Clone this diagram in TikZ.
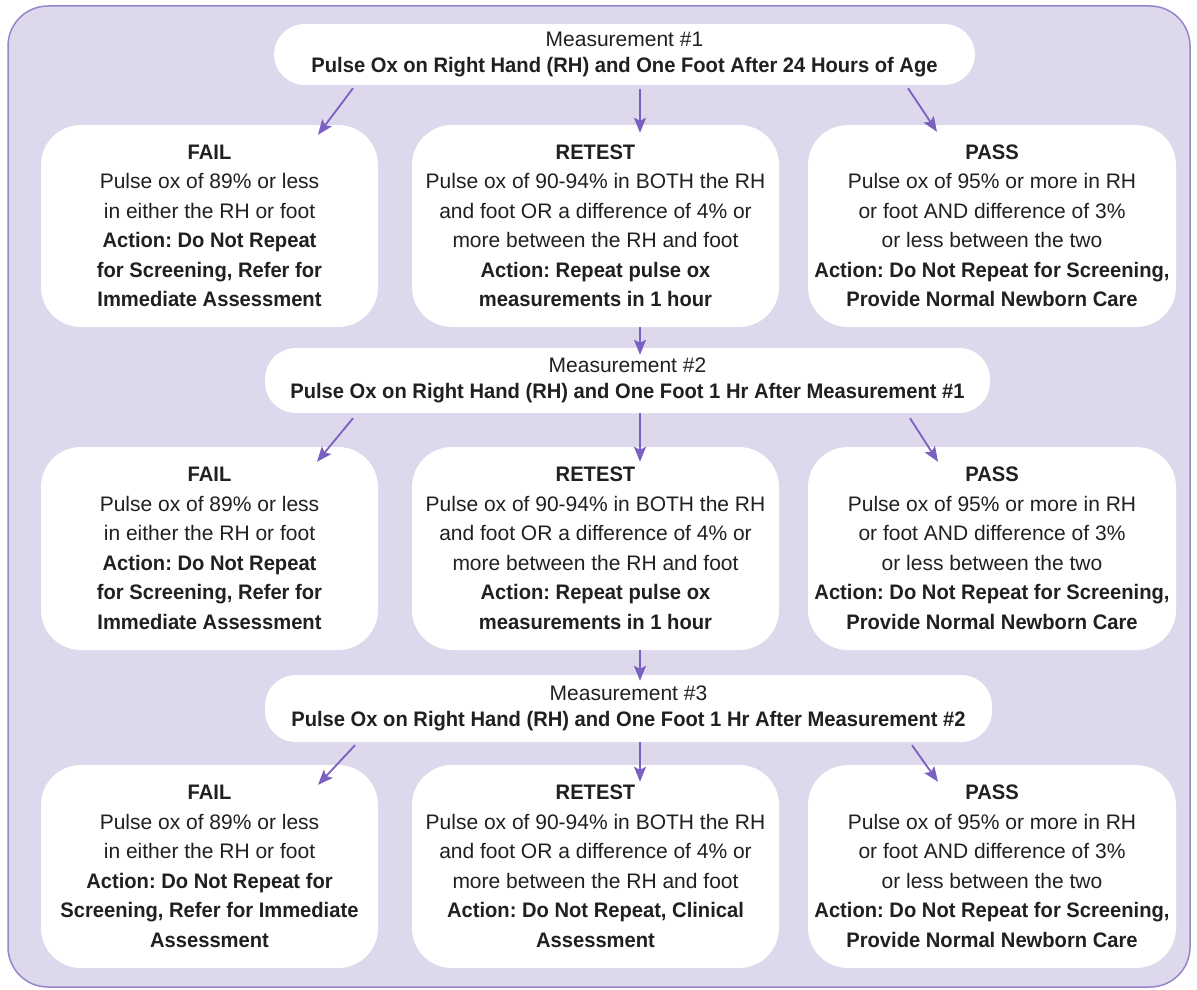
\documentclass[tikz,border=0pt]{standalone}
\usepackage{fontspec}
\setmainfont{Liberation Sans}[BoldFeatures={FakeStretch=0.96}]
\frenchspacing
\usetikzlibrary{arrows.meta}
\definecolor{bgc}{RGB}{221,216,236}
\definecolor{framec}{RGB}{150,133,200}
\definecolor{arrc}{RGB}{122,96,192}
\definecolor{txtc}{RGB}{34,31,32}
\tikzset{
  frame/.style={draw=framec, line width=1.5pt, fill=bgc, rounded corners=40pt},
  resultbox/.style={fill=white, rounded corners=40pt, inner sep=0pt, align=center,
    text=txtc, font=\fontsize{21}{29.5}\selectfont\frenchspacing, minimum height=203pt},
  measbox/.style={fill=white, rounded corners=31pt, inner sep=0pt, align=center,
    text=txtc, font=\fontsize{21}{26.5}\selectfont\frenchspacing},
  arr/.style={draw=arrc, line width=1.8pt, -{Stealth[length=15pt,width=12pt,inset=3pt]}}
}
\begin{document}
\begin{tikzpicture}[x=1pt,y=-1pt]
\useasboundingbox (0,0) rectangle (1197,990);
\path[frame] (8,6) rectangle (1190,987);

% Measurement boxes
\node[measbox, minimum width=701pt, minimum height=61pt] (m1) at (624.5,54.5)
  {Measurement \#1\\\textbf{Pulse Ox on Right Hand (RH) and One Foot After 24 Hours of Age}};
\node[measbox, minimum width=725pt, minimum height=65pt] (m2) at (627.5,380.5)
  {Measurement \#2\\\textbf{Pulse Ox on Right Hand (RH) and One Foot 1 Hr After Measurement \#1}};
\node[measbox, minimum width=727pt, minimum height=67pt] (m3) at (628.5,708.5)
  {Measurement \#3\\\textbf{Pulse Ox on Right Hand (RH) and One Foot 1 Hr After Measurement \#2}};

% Row 1
\node[resultbox, minimum width=337pt, minimum height=202pt] (fail1) at (209.5,226)
  {\textbf{FAIL}\\Pulse ox of 89\% or less\\in either the RH or foot\\\textbf{Action: Do Not Repeat}\\\textbf{for Screening, Refer for}\\\textbf{Immediate Assessment}};
\node[resultbox, minimum width=367pt, minimum height=202pt] (retest1) at (595.5,226)
  {\textbf{RETEST}\\Pulse ox of 90-94\% in BOTH the RH\\and foot OR a difference of 4\% or\\more between the RH and foot\\\textbf{Action: Repeat pulse ox}\\\textbf{measurements in 1 hour}};
\node[resultbox, minimum width=368pt, minimum height=202pt] (pass1) at (992,226)
  {\textbf{PASS}\\Pulse ox of 95\% or more in RH\\or foot AND difference of 3\%\\or less between the two\\\textbf{Action: Do Not Repeat for Screening,}\\\textbf{Provide Normal Newborn Care}};

% Row 2
\node[resultbox, minimum width=337pt] (fail2) at (209.5,548.5)
  {\textbf{FAIL}\\Pulse ox of 89\% or less\\in either the RH or foot\\\textbf{Action: Do Not Repeat}\\\textbf{for Screening, Refer for}\\\textbf{Immediate Assessment}};
\node[resultbox, minimum width=367pt] (retest2) at (595.5,548.5)
  {\textbf{RETEST}\\Pulse ox of 90-94\% in BOTH the RH\\and foot OR a difference of 4\% or\\more between the RH and foot\\\textbf{Action: Repeat pulse ox}\\\textbf{measurements in 1 hour}};
\node[resultbox, minimum width=368pt] (pass2) at (992,548.5)
  {\textbf{PASS}\\Pulse ox of 95\% or more in RH\\or foot AND difference of 3\%\\or less between the two\\\textbf{Action: Do Not Repeat for Screening,}\\\textbf{Provide Normal Newborn Care}};

% Row 3
\node[resultbox, minimum width=337pt] (fail3) at (209.5,866.5)
  {\textbf{FAIL}\\Pulse ox of 89\% or less\\in either the RH or foot\\\textbf{Action: Do Not Repeat for}\\\textbf{Screening, Refer for Immediate}\\\textbf{Assessment}};
\node[resultbox, minimum width=367pt] (retest3) at (595.5,866.5)
  {\textbf{RETEST}\\Pulse ox of 90-94\% in BOTH the RH\\and foot OR a difference of 4\% or\\more between the RH and foot\\\textbf{Action: Do Not Repeat, Clinical}\\\textbf{Assessment}};
\node[resultbox, minimum width=368pt] (pass3) at (992,866.5)
  {\textbf{PASS}\\Pulse ox of 95\% or more in RH\\or foot AND difference of 3\%\\or less between the two\\\textbf{Action: Do Not Repeat for Screening,}\\\textbf{Provide Normal Newborn Care}};

% Arrows row 1
\draw[arr] ([xshift=-271.5pt,yshift=-3pt]m1.south) -- ([xshift=108.5pt,yshift=-10pt]fail1.north);
\draw[arr] ([xshift=15.5pt,yshift=-4pt]m1.south) -- ([xshift=44.5pt,yshift=-8pt]retest1.north);
\draw[arr] ([xshift=283.5pt,yshift=-3pt]m1.south) -- ([xshift=-55pt,yshift=-7pt]pass1.north);
\draw[arr] ([xshift=44.5pt]retest1.south) -- ([xshift=12.5pt,yshift=-7pt]m2.north);

% Arrows row 2
\draw[arr] ([xshift=-274.5pt,yshift=-5pt]m2.south) -- ([xshift=107.5pt,yshift=-15pt]fail2.north);
\draw[arr] ([xshift=12.5pt]m2.south) -- ([xshift=44.5pt,yshift=-15pt]retest2.north);
\draw[arr] ([xshift=282.5pt,yshift=-5pt]m2.south) -- ([xshift=-54pt,yshift=-15pt]pass2.north);
\draw[arr] ([xshift=44.5pt]retest2.south) -- ([xshift=11.5pt,yshift=-6pt]m3.north);

% Arrows row 3
\draw[arr] ([xshift=-273.5pt,yshift=-3pt]m3.south) -- ([xshift=108.5pt,yshift=-20pt]fail3.north);
\draw[arr] ([xshift=11.5pt]m3.south) -- ([xshift=44.5pt,yshift=-17pt]retest3.north);
\draw[arr] ([xshift=283.5pt,yshift=-3pt]m3.south) -- ([xshift=-54pt,yshift=-17pt]pass3.north);
\end{tikzpicture}
\end{document}
